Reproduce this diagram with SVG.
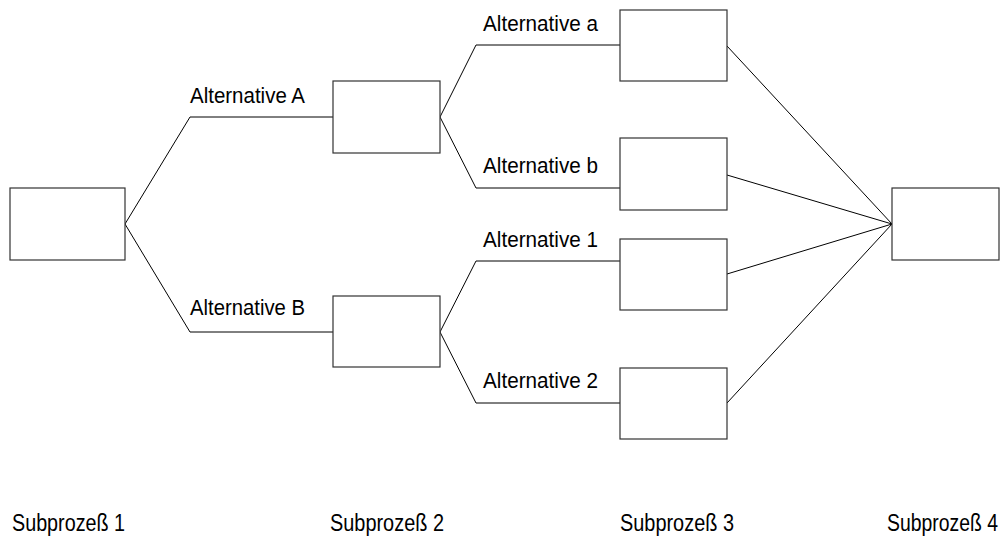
<svg xmlns="http://www.w3.org/2000/svg" width="1007" height="541" viewBox="0 0 1007 541">
<style>
.box{fill:#fff;stroke:#333;stroke-width:1.2}
.c{fill:none;stroke:#000;stroke-width:1}
.t{font-family:"Liberation Sans",Arial,sans-serif;font-size:21.5px;fill:#000}
.s{font-family:"Liberation Sans",Arial,sans-serif;font-size:23px;fill:#000}
</style>
<rect width="1007" height="541" fill="#fff"/>
<g id="connectors">
<polyline class="c" points="333,117 190,117 125,224 190,332 333,332"/>
<polyline class="c" points="620,45 476,45 440,117 476,188 620,188"/>
<polyline class="c" points="620,261 476,261 440,332 476,403 620,403"/>
<line class="c" x1="727" y1="46" x2="892" y2="224"/>
<line class="c" x1="727" y1="175" x2="892" y2="224"/>
<line class="c" x1="727" y1="274" x2="892" y2="224"/>
<line class="c" x1="727" y1="403" x2="892" y2="224"/>
</g>
<g id="n1"><rect class="box" x="10" y="188" width="115" height="72"/></g>
<g id="nA"><rect class="box" x="333" y="81" width="107" height="72"/></g>
<g id="nB"><rect class="box" x="333" y="296" width="107" height="71"/></g>
<g id="na"><rect class="box" x="620" y="10" width="107" height="71"/></g>
<g id="nb"><rect class="box" x="620" y="138" width="107" height="72"/></g>
<g id="n1b"><rect class="box" x="620" y="239" width="107" height="71"/></g>
<g id="n2b"><rect class="box" x="620" y="368" width="107" height="71"/></g>
<g id="n4"><rect class="box" x="892" y="188" width="107" height="72"/></g>
<g id="labels">
<text class="t" x="190" y="102.5" textLength="115" lengthAdjust="spacingAndGlyphs">Alternative A</text>
<text class="t" x="190" y="315" textLength="115" lengthAdjust="spacingAndGlyphs">Alternative B</text>
<text class="t" x="483" y="31" textLength="115" lengthAdjust="spacingAndGlyphs">Alternative a</text>
<text class="t" x="483" y="173" textLength="115" lengthAdjust="spacingAndGlyphs">Alternative b</text>
<text class="t" x="483" y="247" textLength="115" lengthAdjust="spacingAndGlyphs">Alternative 1</text>
<text class="t" x="483" y="388" textLength="115" lengthAdjust="spacingAndGlyphs">Alternative 2</text>
<text class="s" x="12" y="531" textLength="113" lengthAdjust="spacingAndGlyphs">Subprozeß 1</text>
<text class="s" x="330" y="531" textLength="114" lengthAdjust="spacingAndGlyphs">Subprozeß 2</text>
<text class="s" x="620" y="531" textLength="114" lengthAdjust="spacingAndGlyphs">Subprozeß 3</text>
<text class="s" x="998" y="531" text-anchor="end" textLength="111" lengthAdjust="spacingAndGlyphs">Subprozeß 4</text>
</g>
</svg>
